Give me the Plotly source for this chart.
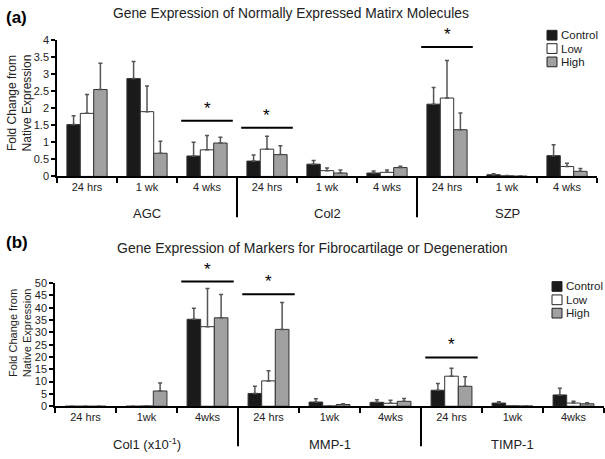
import plotly.graph_objects as go

W, H = 605, 459

# ---------------- data ----------------
times_top = ["24 hrs", "1 wk", "4 wks"] * 3
genes_top = ["AGC", "Col2", "SZP"]
control_top = [1.52, 2.87, 0.60, 0.45, 0.36, 0.10, 2.12, 0.05, 0.61]
control_top_err = [0.26, 0.50, 0.40, 0.18, 0.11, 0.06, 0.49, 0.03, 0.32]
low_top = [1.85, 1.90, 0.78, 0.80, 0.17, 0.12, 2.30, 0.02, 0.29]
low_top_err = [0.55, 0.75, 0.42, 0.38, 0.08, 0.07, 1.10, 0.01, 0.10]
high_top = [2.55, 0.68, 0.98, 0.64, 0.10, 0.26, 1.37, 0.01, 0.15]
high_top_err = [0.77, 0.35, 0.17, 0.26, 0.09, 0.04, 0.49, None, 0.08]

times_bot = ["24 hrs", "1wk", "4wks"] * 3
genes_bot = ["Col1 (x10<sup>-1</sup>)", "MMP-1", "TIMP-1"]
control_bot = [0.0, 0.0, 35.3, 5.2, 1.7, 1.6, 6.5, 1.3, 4.6]
control_bot_err = [None, None, 4.5, 2.9, 1.3, 1.0, 2.7, 0.5, 2.7]
low_bot = [0.0, 0.1, 32.3, 10.3, 0.1, 1.2, 12.2, 0.2, 1.3]
low_bot_err = [None, None, 15.5, 4.1, None, 1.2, 3.2, None, 0.7]
high_bot = [0.0, 6.2, 35.9, 31.2, 0.7, 2.0, 8.1, 0.1, 1.0]
high_bot_err = [None, 3.2, 9.5, 10.9, 0.3, 1.1, 3.9, None, 0.4]

# significance bars: (group index, bar height)
sig_top = [(2, 1.63), (3, 1.43), (6, 3.80)]
sig_bot = [(2, 50.6), (3, 45.5), (6, 19.8)]

series = ["Control", "Low", "High"]
colors = ["#1a1a1a", "#ffffff", "#a0a0a0"]

FONT = "Liberation Sans, Arial, sans-serif"

# ---------------- layout geometry ----------------
top_xdom = [57 / W, 597 / W]
top_ydom = [1 - 175 / H, 1 - 35 / H]
bot_xdom = [55 / W, 604 / W]
bot_ydom = [1 - 411 / H, 1 - 284.5 / H]
top_range = [0, 4]
bot_range = [0, 50]
NG = 9


def xp(dom, v):
    return dom[0] + (v + 0.5) / NG * (dom[1] - dom[0])


def yp(dom, rng, v):
    return dom[0] + (v - rng[0]) / (rng[1] - rng[0]) * (dom[1] - dom[0])


fig = go.Figure()
xs = list(range(NG))

top_vals = [control_top, low_top, high_top]
top_errs = [control_top_err, low_top_err, high_top_err]
bot_vals = [control_bot, low_bot, high_bot]
bot_errs = [control_bot_err, low_bot_err, high_bot_err]

for i, name in enumerate(series):
    fig.add_trace(go.Bar(
        x=xs, y=top_vals[i], name=name, offsetgroup=str(i), showlegend=False,
        marker=dict(color=colors[i], line=dict(color="#333333", width=1)),
        error_y=dict(type="data", array=top_errs[i], arrayminus=[0] * NG,
                     symmetric=False, color="#555555", thickness=1.5, width=2),
        xaxis="x", yaxis="y",
    ))
for i, name in enumerate(series):
    fig.add_trace(go.Bar(
        x=xs, y=bot_vals[i], name=name, offsetgroup=str(i), showlegend=False,
        marker=dict(color=colors[i], line=dict(color="#333333", width=1)),
        error_y=dict(type="data", array=bot_errs[i], arrayminus=[0] * NG,
                     symmetric=False, color="#555555", thickness=1.5, width=2),
        xaxis="x2", yaxis="y2",
    ))

axis_common = dict(showline=True, linecolor="black", linewidth=1.5,
                   showgrid=False, zeroline=False,
                   tickfont=dict(family=FONT, size=11, color="#222"))


def xaxis(dom, anchor, labels):
    return dict(domain=dom, anchor=anchor, range=[-0.5, NG - 0.5],
                tickmode="array", tickvals=xs, ticktext=labels, ticks="",
                minor=dict(tickmode="array", tickvals=[k - 0.5 for k in range(NG + 1)],
                           ticks="outside", ticklen=5, tickwidth=1.5, tickcolor="black"),
                **axis_common)


fig.update_layout(
    width=W, height=H, margin=dict(l=0, r=0, t=0, b=0),
    paper_bgcolor="white", plot_bgcolor="white",
    barmode="group", bargap=0.33, bargroupgap=0,
    font=dict(family=FONT, color="#222"),
    xaxis=xaxis(top_xdom, "y", times_top),
    yaxis=dict(domain=top_ydom, anchor="x", range=top_range, dtick=0.5,
               ticks="outside", ticklen=4, tickwidth=1.5, tickcolor="black", **axis_common),
    xaxis2=xaxis(bot_xdom, "y2", times_bot),
    yaxis2=dict(domain=bot_ydom, anchor="x2", range=bot_range, dtick=5,
                ticks="outside", ticklen=4, tickwidth=1.5, tickcolor="black", **axis_common),
    showlegend=False,
)

shapes = []
ann = []

# group separators
for dom_x, dom_y, bottom_px in [(top_xdom, top_ydom, 217), (bot_xdom, bot_ydom, 452)]:
    for g in (2.5, 5.5):
        shapes.append(dict(type="line", xref="paper", yref="paper",
                           x0=xp(dom_x, g), x1=xp(dom_x, g),
                           y0=dom_y[0], y1=1 - bottom_px / H,
                           line=dict(color="black", width=2)))

# gene labels
for dom_x, genes, ypx in [(top_xdom, genes_top, 213), (bot_xdom, genes_bot, 450)]:
    for k, gname in enumerate(genes):
        ann.append(dict(text=gname, xref="paper", yref="paper",
                        x=xp(dom_x, 3 * k + 1), y=1 - ypx / H,
                        xanchor="center", yanchor="middle", showarrow=False,
                        font=dict(family=FONT, size=13, color="#222")))

# significance lines and stars
for dom_x, dom_y, rng, sig in [(top_xdom, top_ydom, top_range, sig_top),
                               (bot_xdom, bot_ydom, bot_range, sig_bot)]:
    for g, h in sig:
        yy = yp(dom_y, rng, h)
        shapes.append(dict(type="line", xref="paper", yref="paper",
                           x0=xp(dom_x, g - 0.43), x1=xp(dom_x, g + 0.43),
                           y0=yy, y1=yy, line=dict(color="black", width=2)))
        ann.append(dict(text="*", xref="paper", yref="paper",
                        x=xp(dom_x, g), y=yy, xanchor="center", yanchor="bottom",
                        yshift=1, showarrow=False,
                        font=dict(family=FONT, size=17, color="black")))

# legends (one per panel)
for lx, ly in [(547, 30), (552, 288)]:
    for i, name in enumerate(series):
        cy = ly + i * 13.7
        shapes.append(dict(type="rect", xref="paper", yref="paper",
                           x0=lx / W, x1=(lx + 10) / W,
                           y0=1 - (cy + 5) / H, y1=1 - (cy - 5) / H,
                           fillcolor=colors[i], line=dict(color="#222", width=1)))
        ann.append(dict(text=name, xref="paper", yref="paper",
                        x=(lx + 12) / W, y=1 - cy / H, xanchor="left", yanchor="middle",
                        showarrow=False, font=dict(family=FONT, size=11.5, color="#222")))

# titles and panel letters
ann.append(dict(text="Gene Expression of Normally Expressed Matirx Molecules",
                xref="paper", yref="paper", x=291 / W, y=1 - 8 / H,
                xanchor="center", yanchor="middle", showarrow=False,
                font=dict(family=FONT, size=13.8, color="#222")))
ann.append(dict(text="Gene Expression of Markers for Fibrocartilage or Degeneration",
                xref="paper", yref="paper", x=312 / W, y=1 - 249 / H,
                xanchor="center", yanchor="middle", showarrow=False,
                font=dict(family=FONT, size=14, color="#222")))
ann.append(dict(text="<b>(a)</b>", xref="paper", yref="paper", x=4 / W, y=1 - 12 / H,
                xanchor="left", yanchor="middle", showarrow=False,
                font=dict(family=FONT, size=17, color="black")))
ann.append(dict(text="<b>(b)</b>", xref="paper", yref="paper", x=4 / W, y=1 - 243 / H,
                xanchor="left", yanchor="middle", showarrow=False,
                font=dict(family=FONT, size=17, color="black")))

# y axis titles
for ycen, fs in ((100, 12), (336, 11)):
    ann.append(dict(text="Fold Change from<br>Native Expression", xref="paper", yref="paper",
                    x=20 / W, y=1 - ycen / H, xanchor="center", yanchor="middle",
                    textangle=-90, showarrow=False,
                    font=dict(family=FONT, size=fs, color="#222")))

fig.update_layout(shapes=shapes, annotations=ann)
fig.write_html("out.html", config={"displayModeBar": False},
               post_script="document.body.style.margin='0';document.body.style.overflow='hidden';")
